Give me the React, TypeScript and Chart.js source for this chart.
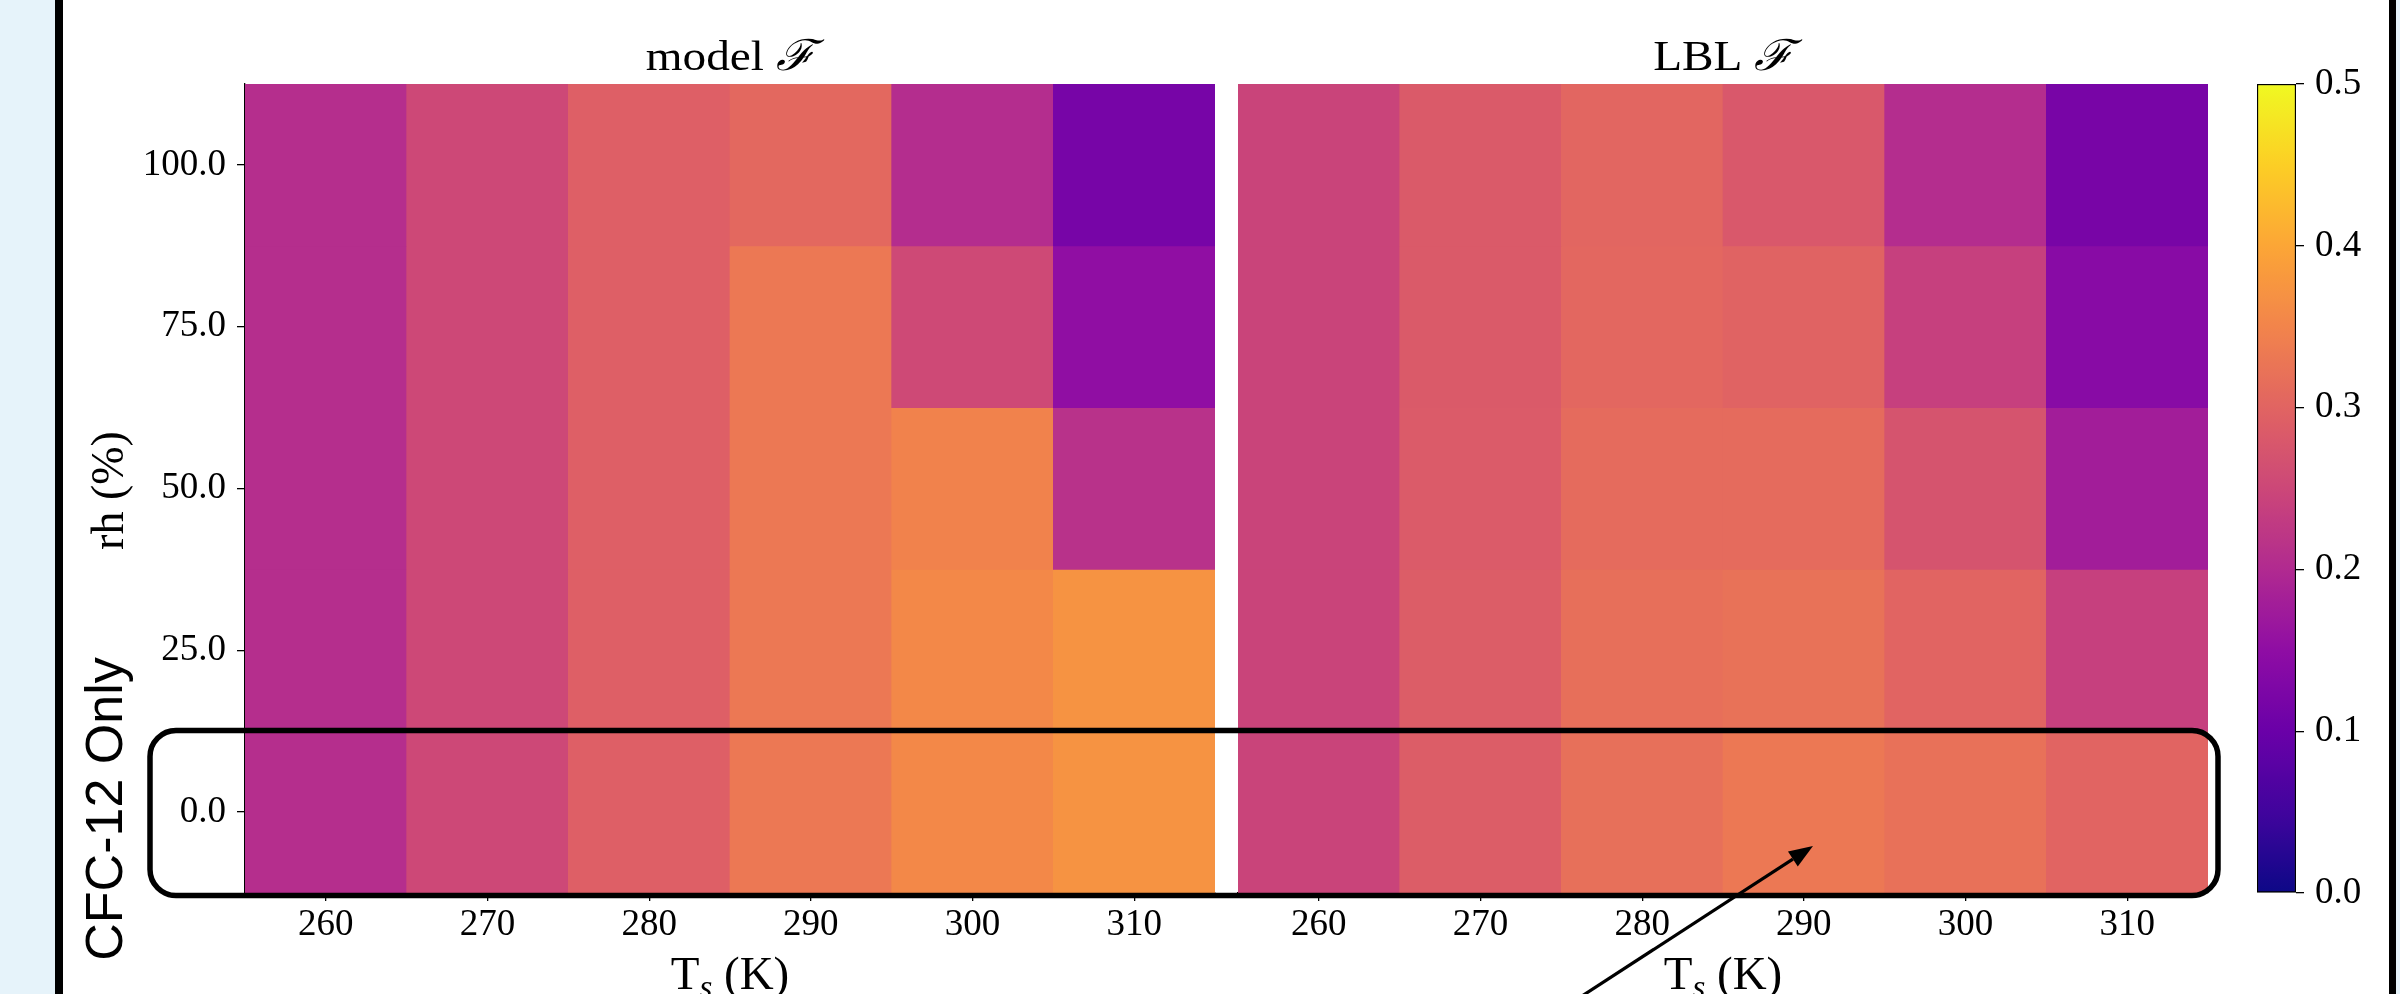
import React, { useEffect, useRef } from 'react';
import { Chart, registerables } from 'chart.js';

Chart.register(...registerables);

// ---------------- data ----------------
const tsLabels = ['260', '270', '280', '290', '300', '310'];
const rhLevels = [100, 75, 50, 25, 0]; // rows, top to bottom
const rhTicks = [0, 25, 50, 75, 100];
const rhStep = 25;

// model F, one row per rh level (100, 75, 50, 25, 0), columns Ts 260..310
const modelRh100 = [0.207, 0.252, 0.292, 0.306, 0.205, 0.118];
const modelRh75 = [0.207, 0.252, 0.292, 0.331, 0.254, 0.152];
const modelRh50 = [0.207, 0.252, 0.292, 0.331, 0.347, 0.213];
const modelRh25 = [0.207, 0.252, 0.292, 0.331, 0.356, 0.372];
const modelRh0 = [0.207, 0.252, 0.292, 0.331, 0.356, 0.372];

// LBL F
const lblRh100 = [0.245, 0.283, 0.303, 0.28, 0.205, 0.119];
const lblRh75 = [0.245, 0.283, 0.305, 0.298, 0.238, 0.141];
const lblRh50 = [0.245, 0.285, 0.311, 0.311, 0.272, 0.178];
const lblRh25 = [0.245, 0.288, 0.317, 0.322, 0.3, 0.238];
const lblRh0 = [0.245, 0.288, 0.318, 0.331, 0.32, 0.3];

const modelRows = [modelRh100, modelRh75, modelRh50, modelRh25, modelRh0];
const lblRows = [lblRh100, lblRh75, lblRh50, lblRh25, lblRh0];

const cbTicks = [0, 0.1, 0.2, 0.3, 0.4, 0.5];
const vMin = 0;
const vMax = 0.5;

// plasma colormap anchors (t = 0, 0.1, ..., 1)
const plasmaHex = ['#0d0887', '#41049d', '#6a00a8', '#8f0da4', '#b12a90', '#cc4778', '#e16462', '#f2844b', '#fca636', '#fcce25', '#f0f921'];

// ---------------- helpers ----------------
const SERIF = '"Liberation Serif", "Times New Roman", Times, serif';
const SCRIPT = '"Liberation Serif", "DejaVu Serif", serif';
const SANS = '"Liberation Sans", Arial, sans-serif';

function hexToRgb(h: string): number[] {
  return [parseInt(h.slice(1, 3), 16), parseInt(h.slice(3, 5), 16), parseInt(h.slice(5, 7), 16)];
}
const plasmaRgb = plasmaHex.map(hexToRgb);

function plasma(t: number): string {
  const c = Math.max(0, Math.min(1, t)) * (plasmaRgb.length - 1);
  const i = Math.min(plasmaRgb.length - 2, Math.floor(c));
  const f = c - i;
  const a = plasmaRgb[i];
  const b = plasmaRgb[i + 1];
  const r = Math.round(a[0] + (b[0] - a[0]) * f);
  const g = Math.round(a[1] + (b[1] - a[1]) * f);
  const bl = Math.round(a[2] + (b[2] - a[2]) * f);
  return `rgb(${r},${g},${bl})`;
}
const colorFor = (v: number) => plasma((v - vMin) / (vMax - vMin));

// ---------------- layout ----------------
const W = 2400;
const H = 994;
const PLOT_TOP = 84;
const AXIS_H = 101; // space below plot area (canvas bottom - plot bottom)
const P1 = { left: 0, width: 1230, areaLeft: 245, areaRight: 1215 };
const P2 = { left: 1230, width: 1000, areaLeft: 1238, areaRight: 2208 };
const CB = { left: 2230, width: 170, areaLeft: 2257, areaRight: 2296 };

function panelTextPlugin(title: string, showYLabels: boolean) {
  return {
    id: 'panelText',
    afterDraw(chart: any) {
      const { ctx, chartArea } = chart;
      const cx = (chartArea.left + chartArea.right) / 2;
      ctx.save();
      ctx.fillStyle = '#000';
      ctx.textBaseline = 'alphabetic';
      ctx.textAlign = 'left';
      // title
      const sx = 1.1;
      ctx.font = `43px ${SERIF}`;
      const t1 = title + ' ';
      const w1 = ctx.measureText(t1).width;
      ctx.font = `italic 43px ${SCRIPT}`;
      const w2 = ctx.measureText('\u2131').width;
      ctx.save();
      ctx.translate(cx - ((w1 + w2) * sx) / 2, 70);
      ctx.scale(sx, 1);
      ctx.font = `43px ${SERIF}`;
      ctx.fillText(t1, 0, 0);
      ctx.font = `italic 43px ${SCRIPT}`;
      ctx.fillText('\u2131', w1, 0);
      ctx.restore();

      // x axis title: T_s (K)
      const fs = 47;
      ctx.font = `${fs}px ${SERIF}`;
      const wT = ctx.measureText('T').width;
      const wK = ctx.measureText(' (K)').width;
      ctx.font = `italic ${Math.round(fs * 0.7)}px ${SERIF}`;
      const wS = ctx.measureText('s').width;
      let x = cx - (wT + wS + wK) / 2;
      const base = 989;
      ctx.font = `${fs}px ${SERIF}`;
      ctx.fillText('T', x, base);
      x += wT;
      ctx.font = `italic ${Math.round(fs * 0.7)}px ${SERIF}`;
      ctx.fillText('s', x, base + 9);
      x += wS;
      ctx.font = `${fs}px ${SERIF}`;
      ctx.fillText(' (K)', x, base);

      if (showYLabels) {
        const cy = (chartArea.top + chartArea.bottom) / 2;
        ctx.save();
        ctx.translate(123, cy + 2);
        ctx.rotate(-Math.PI / 2);
        ctx.textAlign = 'center';
        ctx.font = `46px ${SERIF}`;
        ctx.fillText('rh (%)', 0, 0);
        ctx.restore();

        ctx.save();
        ctx.translate(122, 809);
        ctx.rotate(-Math.PI / 2);
        ctx.textAlign = 'center';
        ctx.font = `52px ${SANS}`;
        ctx.fillText('CFC-12 Only', 0, 0);
        ctx.restore();
      }
      ctx.restore();
    },
  };
}

function heatmapConfig(rows: number[][], title: string, panel: typeof P1, showY: boolean): any {
  const tickFont = { family: SERIF, size: 37 };
  return {
    type: 'bar',
    data: {
      labels: tsLabels,
      datasets: rhLevels.map((rh, r) => ({
        data: tsLabels.map(() => [rh - rhStep / 2, rh + rhStep / 2]),
        backgroundColor: rows[r].map(colorFor),
        borderWidth: 0,
        grouped: false,
        barPercentage: 1,
        categoryPercentage: 1,
      })),
    },
    options: {
      animation: false,
      responsive: false,
      maintainAspectRatio: false,
      events: [],
      layout: {
        padding: {
          left: showY ? 0 : panel.areaLeft - panel.left,
          right: panel.left + panel.width - panel.areaRight,
          top: PLOT_TOP,
          bottom: 0,
        },
      },
      plugins: { legend: { display: false }, tooltip: { enabled: false }, title: { display: false } },
      scales: {
        x: {
          type: 'category',
          offset: true,
          grid: { display: true, drawOnChartArea: false, drawTicks: true, tickLength: 8, color: '#000', lineWidth: 1.3, offset: false },
          border: { display: true, color: '#000', width: 1.3 },
          ticks: { color: '#000', font: tickFont, padding: 2, maxRotation: 0, autoSkip: false },
          afterFit: (s: any) => {
            s.height = AXIS_H;
          },
        },
        y: {
          type: 'linear',
          display: showY,
          min: rhTicks[0] - rhStep / 2,
          max: rhTicks[rhTicks.length - 1] + rhStep / 2,
          afterBuildTicks: (s: any) => {
            s.ticks = rhTicks.map((v) => ({ value: v }));
          },
          grid: { display: true, drawOnChartArea: false, drawTicks: true, tickLength: 8, color: '#000', lineWidth: 1.3 },
          border: { display: true, color: '#000', width: 1.3 },
          ticks: { color: '#000', font: tickFont, padding: 11, callback: (v: any) => Number(v).toFixed(1) },
          afterFit: (s: any) => {
            s.width = showY ? panel.areaLeft - panel.left : 0;
          },
        },
      },
    },
    plugins: [panelTextPlugin(title, showY)],
  };
}

function colorbarConfig(): any {
  return {
    type: 'bar',
    data: {
      labels: ['F'],
      datasets: [
        {
          data: [[vMin, vMax]],
          backgroundColor: (c: any) => {
            const area = c.chart.chartArea;
            if (!area) return plasmaHex[5];
            const g = c.chart.ctx.createLinearGradient(0, area.bottom, 0, area.top);
            for (let i = 0; i <= 50; i++) g.addColorStop(i / 50, plasma(i / 50));
            return g;
          },
          borderColor: '#000',
          borderWidth: 1.5,
          borderSkipped: false,
          barPercentage: 1,
          categoryPercentage: 1,
        },
      ],
    },
    options: {
      animation: false,
      responsive: false,
      maintainAspectRatio: false,
      events: [],
      layout: { padding: { left: CB.areaLeft - CB.left, right: 0, top: PLOT_TOP, bottom: AXIS_H } },
      plugins: { legend: { display: false }, tooltip: { enabled: false } },
      scales: {
        x: { type: 'category', display: false, offset: true },
        y: {
          type: 'linear',
          position: 'right',
          min: vMin,
          max: vMax,
          afterBuildTicks: (s: any) => {
            s.ticks = cbTicks.map((v) => ({ value: v }));
          },
          grid: { display: true, drawOnChartArea: false, drawTicks: true, tickLength: 8, color: '#000', lineWidth: 1.3 },
          border: { display: false },
          ticks: { color: '#000', font: { family: SERIF, size: 37 }, padding: 11, callback: (v: any) => Number(v).toFixed(1) },
          afterFit: (s: any) => {
            s.width = CB.left + CB.width - CB.areaRight;
          },
        },
      },
    },
  };
}

function ChartCanvas({ cfg, left, width }: { cfg: () => any; left: number; width: number }) {
  const ref = useRef<HTMLCanvasElement | null>(null);
  useEffect(() => {
    if (!ref.current) return;
    const chart = new Chart(ref.current, cfg());
    return () => chart.destroy();
  }, []);
  return (
    <canvas
      ref={ref}
      width={width}
      height={H}
      style={{ position: 'absolute', left, top: 0, width, height: H, display: 'block' }}
    />
  );
}

// annotation geometry (rounded box around rh = 0 row, arrow)
const BOX = { x: 150, y: 730.5, w: 2068, h: 165, r: 26, lw: 5.5 };
const ARROW = { x1: 1582, y1: 996, x2: 1813, y2: 846, head: 24, half: 9 };

export default function App() {
  const dx = ARROW.x2 - ARROW.x1;
  const dy = ARROW.y2 - ARROW.y1;
  const len = Math.hypot(dx, dy);
  const ux = dx / len;
  const uy = dy / len;
  const bx = ARROW.x2 - ux * ARROW.head;
  const by = ARROW.y2 - uy * ARROW.head;
  const nx = -uy;
  const ny = ux;
  const head = `${ARROW.x2},${ARROW.y2} ${bx + nx * ARROW.half},${by + ny * ARROW.half} ${bx - nx * ARROW.half},${by - ny * ARROW.half}`;

  return (
    <div style={{ position: 'fixed', left: 0, top: 0, width: W, height: H, background: '#fff', overflow: 'hidden' }}>
      <div style={{ position: 'absolute', left: 0, top: 0, width: 55, height: H, background: '#e6f3fa' }} />
      <div style={{ position: 'absolute', left: 55, top: 0, width: 8, height: H, background: '#000' }} />
      <div style={{ position: 'absolute', left: 2389, top: 0, width: 7, height: H, background: '#000' }} />
      <div style={{ position: 'absolute', left: 2396, top: 0, width: 4, height: H, background: '#e6f3fa' }} />
      <ChartCanvas cfg={() => heatmapConfig(modelRows, 'model', P1, true)} left={P1.left} width={P1.width} />
      <ChartCanvas cfg={() => heatmapConfig(lblRows, 'LBL', P2, false)} left={P2.left} width={P2.width} />
      <ChartCanvas cfg={colorbarConfig} left={CB.left} width={CB.width} />
      <svg width={W} height={H} style={{ position: 'absolute', left: 0, top: 0, pointerEvents: 'none' }}>
        <rect x={BOX.x} y={BOX.y} width={BOX.w} height={BOX.h} rx={BOX.r} ry={BOX.r} fill="none" stroke="#000" strokeWidth={BOX.lw} />
        <line x1={ARROW.x1} y1={ARROW.y1} x2={bx} y2={by} stroke="#000" strokeWidth={3.2} />
        <polygon points={head} fill="#000" />
      </svg>
    </div>
  );
}
